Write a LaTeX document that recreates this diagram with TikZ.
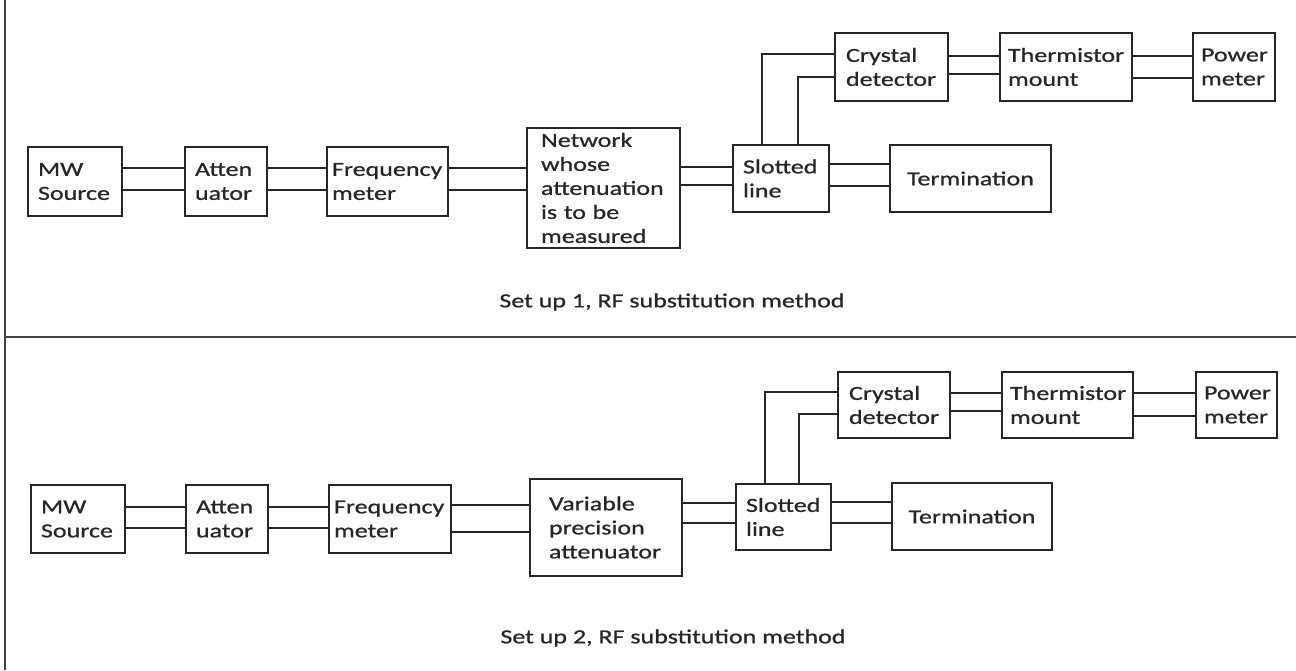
\documentclass[tikz,border=0pt]{standalone}
\usepackage{fontspec}
\setmainfont{Carlito}[FakeStretch=1.3,FakeBold=0.8]
\newcommand\twin[4]{%
  \draw[cn] (#1.east |- 0,#3) -- (#2.west |- 0,#3);
  \draw[cn] (#1.east |- 0,#4) -- (#2.west |- 0,#4);}
\begin{document}
\begin{tikzpicture}[x=1pt,y=-1pt,
  blk/.style={draw=black!85, line width=2.7pt, inner ysep=0pt, align=left,
    font=\fontsize{20}{24}\selectfont, text=black!85},
  cn/.style={draw=black!85, line width=2.2pt},
  capt/.style={font=\fontsize{20}{24}\selectfont, text=black!85},
  frm/.style={draw=black!75, line width=2pt}]
\useasboundingbox (0,0) rectangle (1296,670);
\fill[white] (0,0) rectangle (1296,670);
\draw[frm] (5,0) -- (5,670);
\draw[frm] (5,337) -- (1296,337);

% ---------- Set up 1 ----------
\node[blk, minimum width=94pt, minimum height=69pt, text width=74pt, inner xsep=10pt] (ms1) at (75,181.5) {MW\\Source};
\node[blk, minimum width=82pt, minimum height=69pt, text width=62pt, inner xsep=10pt] (at1) at (226,181.5) {Atten\\uator};
\node[blk, minimum width=121pt, minimum height=69pt, text width=111pt, inner xsep=5pt] (fm1) at (387.5,181.5) {Frequency\\meter};
\node[blk, minimum width=153pt, minimum height=120pt, text width=125pt, inner xsep=14pt] (nw1) at (603.5,188) {Network\\whose\\attenuation\\is to be\\measured};
\node[blk, minimum width=96pt, minimum height=67pt, text width=76pt, inner xsep=10pt] (sl1) at (781,178.5) {Slotted\\line};
\node[blk, minimum width=113pt, minimum height=68pt, text width=91pt, inner xsep=11pt] (cd1) at (891.5,67) {Crystal\\detector};
\node[blk, minimum width=132pt, minimum height=68pt, text width=116pt, inner xsep=8pt] (tm1) at (1066,67) {Thermistor\\mount};
\node[blk, minimum width=82pt, minimum height=68pt, text width=66pt, inner xsep=8pt] (pm1) at (1234,67) {Power\\meter};
\node[blk, align=center, minimum width=161pt, minimum height=67pt, text width=141pt, inner xsep=10pt] (te1) at (970.5,178.5) {Termination};

\twin{ms1}{at1}{168}{190}
\twin{at1}{fm1}{168}{190}
\twin{fm1}{nw1}{168}{190}
\twin{nw1}{sl1}{167}{185}
\twin{sl1}{te1}{164}{186}
\twin{cd1}{tm1}{56}{74}
\twin{tm1}{pm1}{56}{78}
\draw[cn] (sl1.north -| 762,0) |- (cd1.west |- 0,54);
\draw[cn] (sl1.north -| 798,0) |- (cd1.west |- 0,77);

\node[capt] (cap1) at (672,302) {Set up 1, RF substitution method};

% ---------- Set up 2 ----------
\node[blk, minimum width=94pt, minimum height=68pt, text width=74pt, inner xsep=10pt] (ms2) at (78,519) {MW\\Source};
\node[blk, minimum width=82pt, minimum height=68pt, text width=62pt, inner xsep=10pt] (at2) at (227,519) {Atten\\uator};
\node[blk, minimum width=122pt, minimum height=68pt, text width=112pt, inner xsep=5pt] (fm2) at (390,519) {Frequency\\meter};
\node[blk, minimum width=152pt, minimum height=97pt, text width=114pt, inner xsep=19pt] (vp2) at (606,527.5) {Variable\\precision\\attenuator};
\node[blk, minimum width=95pt, minimum height=66pt, text width=75pt, inner xsep=10pt] (sl2) at (783.5,517) {Slotted\\line};
\node[blk, minimum width=112pt, minimum height=66pt, text width=90pt, inner xsep=11pt] (cd2) at (894,405) {Crystal\\detector};
\node[blk, minimum width=131pt, minimum height=66pt, text width=115pt, inner xsep=8pt] (tm2) at (1067.5,405) {Thermistor\\mount};
\node[blk, minimum width=81pt, minimum height=66pt, text width=65pt, inner xsep=8pt] (pm2) at (1236.5,405) {Power\\meter};
\node[blk, align=center, minimum width=160pt, minimum height=67pt, text width=140pt, inner xsep=10pt] (te2) at (972,516.5) {Termination};

\twin{ms2}{at2}{507}{528}
\twin{at2}{fm2}{507}{528}
\twin{fm2}{vp2}{505}{532}
\twin{vp2}{sl2}{503}{523}
\twin{sl2}{te2}{502}{523}
\twin{cd2}{tm2}{393}{411}
\twin{tm2}{pm2}{393}{416}
\draw[cn] (sl2.north -| 765,0) |- (cd2.west |- 0,392);
\draw[cn] (sl2.north -| 799,0) |- (cd2.west |- 0,414);

\node[capt] (cap2) at (673,638) {Set up 2, RF substitution method};
\end{tikzpicture}
\end{document}
